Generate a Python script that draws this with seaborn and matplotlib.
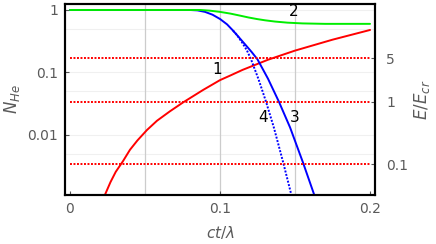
import numpy as np
import pandas as pd
import matplotlib
matplotlib.use("Agg")
import matplotlib.pyplot as plt
import matplotlib.ticker as mticker
import seaborn as sns

# ---- data ----
green_ct = [0.0, 0.06, 0.087, 0.093, 0.1, 0.107, 0.1133, 0.119, 0.1247, 0.13, 0.1367, 0.145, 0.155, 0.17, 0.2]
green_n  = [1.0, 1.0, 1.0, 0.977, 0.933, 0.875, 0.813, 0.759, 0.716, 0.684, 0.653, 0.627, 0.61, 0.60, 0.60]

red_ct = [0.02, 0.0233, 0.027, 0.0305, 0.0353, 0.04, 0.045, 0.0513, 0.058, 0.0667, 0.0753,
          0.0887, 0.1, 0.1067, 0.115, 0.132, 0.15, 0.175, 0.2]
red_n  = [0.00066, 0.0011, 0.00176, 0.00257, 0.0038, 0.0058, 0.0082, 0.012, 0.0169, 0.024, 0.0331,
          0.0525, 0.0755, 0.0891, 0.11, 0.16, 0.224, 0.335, 0.479]

blue_ct = [0.0, 0.06, 0.08, 0.085, 0.09, 0.095, 0.1, 0.1047, 0.1087, 0.112, 0.1167, 0.121, 0.125,
           0.132, 0.1393, 0.1467, 0.1553, 0.1627, 0.165]
blue_n  = [1.0, 1.0, 1.0, 0.986, 0.933, 0.841, 0.718, 0.589, 0.468, 0.380, 0.282, 0.214, 0.162,
           0.0794, 0.0339, 0.0132, 0.00363, 0.00112, 0.00076]

blue_dot_ct = [0.1087, 0.1113, 0.115, 0.118, 0.1207, 0.1257, 0.1307, 0.136, 0.142, 0.148, 0.1495]
blue_dot_n  = [0.468, 0.398, 0.295, 0.224, 0.162, 0.0776, 0.0339, 0.0129, 0.00372, 0.001, 0.00072]

e_levels = [5, 1, 0.1]          # E/E_cr dotted reference levels
left_ticks = [1, 0.1, 0.01]
left_tick_labels = ["1", "0.1", "0.01"]
x_ticks = [0, 0.1, 0.2]
x_tick_labels = ["0", "0.1", "0.2"]
right_tick_labels = ["5", "1", "0.1"]
curve_labels = [("1", 0.098, 0.11), ("2", 0.1493, 0.93), ("3", 0.150, 0.0187), ("4", 0.1287, 0.0187)]

sns.set_theme(style="white")
plt.rcParams["font.family"] = ["DejaVu Sans"]
plt.rcParams["mathtext.fontset"] = "dejavusans"

fig = plt.figure(figsize=(4.36, 2.44), dpi=100)
ax = fig.add_axes([65/436, 1 - 195/244, (375-65)/436, (195-4)/244])

ylo, yhi = 0.001096, 1.247
factor = 29.5

# faint grid
for gy in [1, 0.5, 0.1, 0.05, 0.01, 0.005]:
    ax.axhline(gy, color="#f0f0f0", lw=0.8, zorder=0)
for gx in [0.05, 0.1, 0.15]:
    ax.axvline(gx, color="#cccccc", lw=0.9, zorder=0)

df_g = pd.DataFrame({"ct": green_ct, "n": green_n})
df_r = pd.DataFrame({"ct": red_ct, "n": red_n})
df_b = pd.DataFrame({"ct": blue_ct, "n": blue_n})
df_bd = pd.DataFrame({"ct": blue_dot_ct, "n": blue_dot_n})

sns.lineplot(data=df_r, x="ct", y="n", ax=ax, color="#ff0000", lw=1.4, sort=False)
sns.lineplot(data=df_bd, x="ct", y="n", ax=ax, color="#0000ff", lw=1.4, sort=False, linestyle=(0, (1, 0.8)))
sns.lineplot(data=df_b, x="ct", y="n", ax=ax, color="#0000ff", lw=1.4, sort=False)
sns.lineplot(data=df_g, x="ct", y="n", ax=ax, color="#00ee00", lw=1.4, sort=False)

ax.set_yscale("log")
ax.set_xlim(-0.0033, 0.2033)
ax.set_ylim(ylo, yhi)
ax.yaxis.set_major_locator(mticker.FixedLocator(left_ticks))
ax.yaxis.set_major_formatter(mticker.FixedFormatter(left_tick_labels))
ax.yaxis.set_minor_locator(mticker.NullLocator())
ax.xaxis.set_major_locator(mticker.FixedLocator(x_ticks))
ax.xaxis.set_major_formatter(mticker.FixedFormatter(x_tick_labels))
ax.tick_params(axis="both", which="major", direction="in", length=3, width=0.8,
               labelsize=10, labelcolor="#5a5a5a", color="#555555", pad=5,
               left=True, bottom=True)
ax.set_xlabel(r"$ct/\lambda$", fontsize=11, color="#5a5a5a", labelpad=6)
ax.set_ylabel(r"$N_{He}$", fontsize=12, color="#5a5a5a", labelpad=4)

for s in ax.spines.values():
    s.set_color("black")
    s.set_linewidth(1.5)

ax2 = ax.twinx()
ax2.set_yscale("log")
ax2.set_ylim(ylo * factor, yhi * factor)
df_lv = pd.DataFrame({"ct": [0.0, 0.2] * len(e_levels),
                      "e": np.repeat(e_levels, 2),
                      "lvl": np.repeat(range(len(e_levels)), 2)})
for i, lv in enumerate(e_levels):
    sub = df_lv[df_lv["lvl"] == i]
    sns.lineplot(data=sub, x="ct", y="e", ax=ax2, color="#ff0000", lw=1.4,
                 linestyle=(0, (1, 0.8)), sort=False)
ax2.set_xlim(-0.0033, 0.2033)
ax2.yaxis.set_major_locator(mticker.FixedLocator(e_levels))
ax2.yaxis.set_major_formatter(mticker.FixedFormatter(right_tick_labels))
ax2.yaxis.set_minor_locator(mticker.NullLocator())
ax2.tick_params(axis="y", which="major", direction="in", length=3, width=0.8,
                labelsize=10, labelcolor="#5a5a5a", color="#555555", pad=8, right=True)
ax2.set_ylabel(r"$E/E_{cr}$", fontsize=12, color="#5a5a5a", labelpad=3)
ax2.set_xlabel("")
for s in ax2.spines.values():
    s.set_color("black")
    s.set_linewidth(1.5)

for txt, cx, cy in curve_labels:
    ax.text(cx, cy, txt, fontsize=11, color="black", ha="center", va="center")

fig.savefig("out.png", dpi=100)
